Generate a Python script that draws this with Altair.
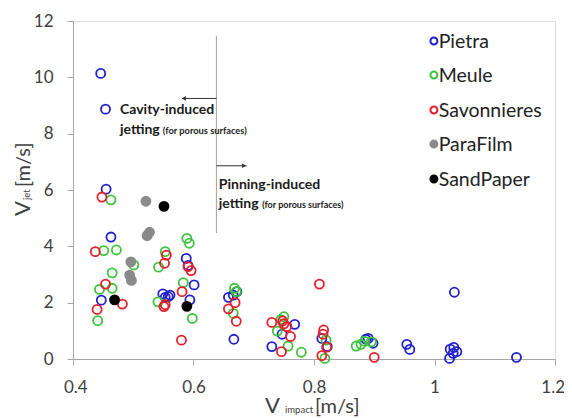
import altair as alt
import pandas as pd

FONT = "Lato"

series_names = ["Pietra", "Meule", "Savonnieres", "ParaFilm", "SandPaper"]
stroke_colors = ["#2020cc", "#3cc43c", "#e4202a", "#8a8a8a", "#000000"]
fill_colors = ["rgba(0,0,0,0)", "rgba(0,0,0,0)", "rgba(0,0,0,0)", "#8a8a8a", "#000000"]
marker_sizes = [82, 82, 82, 55, 60]

pietra_x = [0.446, 0.454, 0.455, 0.463, 0.447, 0.549, 0.558, 0.553, 0.561, 0.588, 0.591, 0.601,
            0.594, 0.658, 0.666, 0.672, 0.667, 0.768, 0.747, 0.730, 0.813, 0.822, 0.886, 0.890,
            0.898, 0.954, 0.959, 1.033, 1.026, 1.032, 1.037, 1.025, 1.031, 1.136]
pietra_y = [10.14, 8.87, 6.03, 4.33, 2.09, 2.31, 2.21, 2.19, 2.27, 3.57, 3.32, 2.63,
            2.10, 2.19, 2.27, 2.39, 0.70, 1.23, 0.88, 0.44, 0.73, 0.44, 0.70, 0.73,
            0.56, 0.52, 0.34, 2.37, 0.35, 0.41, 0.26, 0.02, 0.20, 0.06]

meule_x = [0.463, 0.451, 0.472, 0.501, 0.465, 0.444, 0.465, 0.441, 0.553, 0.542, 0.541,
           0.589, 0.593, 0.583, 0.598, 0.668, 0.671, 0.666, 0.750, 0.745, 0.739, 0.757,
           0.779, 0.820, 0.818, 0.870, 0.878, 0.884, 0.895]
meule_y = [5.65, 3.85, 3.87, 3.34, 3.06, 2.47, 2.51, 1.36, 3.81, 3.26, 2.03,
           4.28, 4.11, 2.71, 1.44, 2.51, 2.39, 1.62, 1.50, 1.40, 0.99, 0.46,
           0.24, 0.67, 0.02, 0.46, 0.52, 0.63, 0.61]

savon_x = [0.448, 0.437, 0.454, 0.482, 0.440, 0.555, 0.552, 0.551, 0.553, 0.591, 0.596,
           0.581, 0.580, 0.658, 0.669, 0.671, 0.730, 0.748, 0.750, 0.755, 0.761, 0.746,
           0.809, 0.816, 0.815, 0.821, 0.813, 0.900]
savon_y = [5.75, 3.81, 2.66, 1.95, 1.76, 3.69, 3.40, 1.86, 1.93, 3.28, 3.14,
           2.39, 0.67, 1.78, 2.00, 1.34, 1.30, 1.35, 1.25, 1.15, 0.80, 0.26,
           2.66, 1.03, 0.88, 0.42, 0.12, 0.06]

parafilm_x = [0.521, 0.527, 0.523, 0.496, 0.494, 0.497]
parafilm_y = [5.60, 4.50, 4.38, 3.45, 2.98, 2.79]

sandpaper_x = [0.551, 0.469, 0.589]
sandpaper_y = [5.42, 2.10, 1.87]

x_ticks = [0.4, 0.6, 0.8, 1.0, 1.2]
y_ticks = [0, 2, 4, 6, 8, 10, 12]

# legend rows (placed in data space, upper right)
legend_y = [11.29, 10.08, 8.84, 7.63, 6.39]
legend_sym_x = [0.999] * 5
legend_txt_x = [1.007] * 5

# annotation elements
vline_x = [0.638]
vline_y = [4.47]
vline_y2 = [11.47]
arrow_x = [0.638, 0.638]
arrow_x2 = [0.581, 0.688]
arrow_y = [9.25, 6.86]
head_x = [0.584, 0.684]
head_y = [9.25, 6.86]
head_shape = ["triangle-left", "triangle-right"]
ann_text = ["Cavity-induced", "jetting", "(for porous surfaces)",
            "Pinning-induced", "jetting", "(for porous surfaces)"]
ann_x = [0.478, 0.478, 0.549, 0.642, 0.642, 0.714]
ann_y = [8.70, 7.98, 7.98, 6.03, 5.36, 5.36]
ann_size = [14, 14, 9.3, 14, 14, 9.0]

all_x = [pietra_x, meule_x, savon_x, parafilm_x, sandpaper_x]
all_y = [pietra_y, meule_y, savon_y, parafilm_y, sandpaper_y]
rows = []
for name, xs, ys in zip(series_names, all_x, all_y):
    for a, b in zip(xs, ys):
        rows.append({"series": name, "x": a, "y": b})
df = pd.DataFrame(rows)

AX = "#a6a6a6"
xenc = alt.X("x:Q", title=None,
             scale=alt.Scale(domain=[0.4, 1.2], nice=False, zero=False),
             axis=alt.Axis(values=x_ticks, format=".1~f", grid=False, domainColor=AX,
                           tickColor=AX, tickSize=6, labelFontSize=17, labelColor="#404040",
                           labelPadding=14, labelFont=FONT, labelFlush=True,
                           labelFlushOffset=9.5))
yenc = alt.Y("y:Q", title=None,
             scale=alt.Scale(domain=[0, 12], nice=False),
             axis=alt.Axis(values=y_ticks, grid=False, domainColor=AX, tickColor=AX,
                           tickSize=6, labelFontSize=17, labelColor="#404040",
                           labelPadding=14, labelFont=FONT, labelFlush=False))

stroke_scale = alt.Scale(domain=series_names, range=stroke_colors)
fill_scale = alt.Scale(domain=series_names, range=fill_colors)

points = alt.Chart(df).mark_point(shape="circle", opacity=1, strokeWidth=1.8).encode(
    x=xenc, y=yenc,
    stroke=alt.Stroke("series:N", scale=stroke_scale, legend=None),
    fill=alt.Fill("series:N", scale=fill_scale, legend=None),
    size=alt.Size("series:N", scale=alt.Scale(domain=series_names, range=marker_sizes),
                  legend=None),
)

leg_df = pd.DataFrame({"series": series_names, "x": legend_sym_x, "xt": legend_txt_x,
                       "y": legend_y})
leg_sym = alt.Chart(leg_df).mark_point(shape="circle", opacity=1, strokeWidth=2,
                                       size=48).encode(
    x=alt.X("x:Q", title=None), y=alt.Y("y:Q", title=None),
    stroke=alt.Stroke("series:N", scale=stroke_scale, legend=None),
    fill=alt.Fill("series:N", scale=fill_scale, legend=None),
)
leg_txt = alt.Chart(leg_df).mark_text(align="left", baseline="middle", font=FONT,
                                      fontSize=19.5, color="#222222", dy=1).encode(
    x=alt.X("xt:Q", title=None), y=alt.Y("y:Q", title=None), text="series:N")

vline = alt.Chart(pd.DataFrame({"x": vline_x, "y": vline_y, "y2": vline_y2})).mark_rule(
    color="#a0a0a0", strokeWidth=1).encode(
    x=alt.X("x:Q", title=None), y=alt.Y("y:Q", title=None), y2="y2:Q")

arrows = alt.Chart(pd.DataFrame({"x": arrow_x, "x2": arrow_x2, "y": arrow_y})).mark_rule(
    color="#333333", strokeWidth=1).encode(
    x=alt.X("x:Q", title=None), x2="x2:Q", y=alt.Y("y:Q", title=None))

heads = alt.Chart(pd.DataFrame({"x": head_x, "y": head_y, "s": head_shape})).mark_point(
    filled=True, color="#333333", opacity=1, size=22).encode(
    x=alt.X("x:Q", title=None), y=alt.Y("y:Q", title=None),
    shape=alt.Shape("s:N", scale=None))

ann = alt.Chart(pd.DataFrame({"x": ann_x, "y": ann_y, "t": ann_text, "s": ann_size})).mark_text(
    align="left", baseline="alphabetic", font=FONT, fontWeight="bold", color="#1a1a1a").encode(
    x=alt.X("x:Q", title=None), y=alt.Y("y:Q", title=None), text="t:N",
    size=alt.Size("s:Q", scale=None, legend=None))


def label(txt, px, py, fs, angle=0):
    return alt.Chart(pd.DataFrame({"t": [txt]})).mark_text(
        align="left", baseline="alphabetic", font=FONT, fontSize=fs, color="#404040",
        angle=angle).encode(text="t:N", x=alt.value(px), y=alt.value(py))


titles = [
    label("V", 192, 392, 22),
    label("impact", 212, 392, 9.5),
    label("[m/s]", 242, 392, 20),
    label("V", -43, 195, 22, 270),
    label("jet", -43, 179, 9.5, 270),
    label("[m/s]", -43, 166, 20, 270),
]

chart = alt.layer(points, leg_sym, leg_txt, vline, arrows, heads, ann, *titles).properties(
    width=482, height=338,
    padding={"left": 65, "top": 13, "right": 9, "bottom": 70},
    autosize=alt.AutoSizeParams(type="none"),
).configure_view(stroke=AX, strokeWidth=1).configure(font=FONT)

chart.save("out.html", embed_options={"renderer": "svg", "actions": False})
